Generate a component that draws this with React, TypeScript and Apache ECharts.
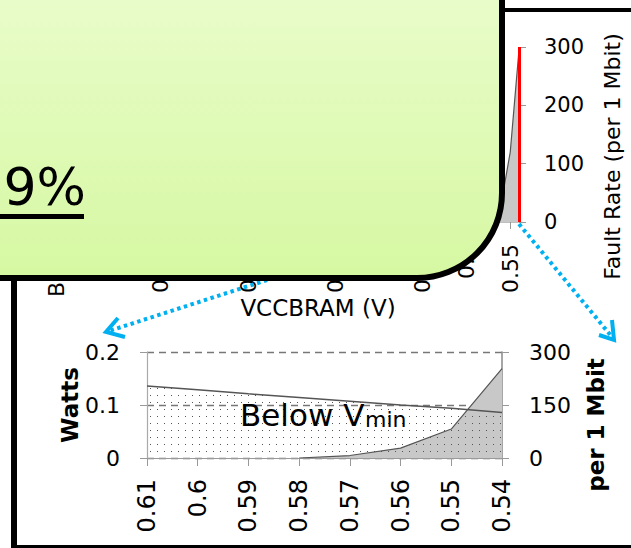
import React, { useEffect, useRef } from "react";
import * as echarts from "echarts";

// ---- data ----
const topVolts = [
  "1", "0.99", "0.98", "0.97", "0.96", "0.95", "0.94", "0.93", "0.92", "0.91",
  "0.9", "0.89", "0.88", "0.87", "0.86", "0.85", "0.84", "0.83", "0.82", "0.81",
  "0.8", "0.79", "0.78", "0.77", "0.76", "0.75", "0.74", "0.73", "0.72", "0.71",
  "0.7", "0.69", "0.68", "0.67", "0.66", "0.65", "0.64", "0.63", "0.62", "0.61",
  "0.6", "0.59", "0.58", "0.57", "0.56", "0.55", "0.54",
];
const topFault = [
  null, null, null, null, null, null, null, null, null, null,
  null, null, null, null, null, null, null, null, null, null,
  null, null, null, null, null, null, null, null, null, null,
  null, null, null, null, null, null, null, null, null, null,
  null, null, 0, 8, 35, 120, 295,
];
const topFaultTicks = [0, 300, 100];
const vminCategory = "0.54";

const zoomVolts = ["0.61", "0.6", "0.59", "0.58", "0.57", "0.56", "0.55", "0.54"];
const zoomPower = [0.136, 0.129, 0.121, 0.114, 0.107, 0.1, 0.094, 0.086];
const zoomFault = [null, null, null, 0, 7, 28, 82, 253];
const powerTicks = [0, 0.2, 0.1];
const faultTicks = [0, 300, 150];

const FONT = '"DejaVu Sans"';
const BLUE = "#00B0F0";

function makeDotPattern(): HTMLCanvasElement {
  const c = document.createElement("canvas");
  c.width = 7;
  c.height = 7;
  const ctx = c.getContext("2d")!;
  ctx.clearRect(0, 0, 7, 7);
  ctx.fillStyle = "#555555";
  ctx.fillRect(3, 3, 1, 1);
  return c;
}

export default function App() {
  const ref = useRef<HTMLDivElement>(null);

  useEffect(() => {
    if (!ref.current) return;
    const chart = echarts.init(ref.current, undefined, { renderer: "svg" });
    const dots = makeDotPattern();

    const option: any = {
      animation: false,
      backgroundColor: "#ffffff",
      textStyle: { fontFamily: FONT, color: "#000" },
      grid: [
        { left: 117, right: 112, top: 47, bottom: 326 },
        { left: 147, right: 129, top: 352, bottom: 90 },
      ],
      xAxis: [
        {
          type: "category",
          gridIndex: 0,
          data: topVolts,
          boundaryGap: false,
          name: "VCCBRAM (V)",
          nameLocation: "middle",
          nameGap: 74,
          nameTextStyle: { fontSize: 23, color: "#000", fontFamily: FONT },
          axisLine: { lineStyle: { color: "#aaaaaa", width: 1.5 } },
          axisTick: { interval: 4, length: 7, lineStyle: { color: "#999" } },
          axisLabel: {
            interval: 4,
            rotate: 90,
            margin: 22,
            fontSize: 22,
            color: "#000",
            fontFamily: FONT,
          },
        },
        {
          type: "category",
          gridIndex: 1,
          data: zoomVolts,
          boundaryGap: false,
          axisLine: { lineStyle: { color: "#999999", width: 1.2 } },
          axisTick: { length: 8, lineStyle: { color: "#999" } },
          axisLabel: {
            rotate: 90,
            margin: 21,
            fontSize: 24,
            color: "#000",
            fontFamily: FONT,
          },
        },
      ],
      yAxis: [
        {
          type: "value",
          gridIndex: 0,
          position: "left",
          min: 0,
          max: 0.6,
          interval: 0.2,
          name: "BRAM Power (W)",
          nameLocation: "middle",
          nameRotate: 90,
          nameGap: 50,
          nameTextStyle: { fontSize: 22, color: "#000", fontFamily: FONT, padding: [0, 142, 0, 0] },
          axisLine: { show: false },
          axisTick: { show: false },
          axisLabel: { show: false },
          splitLine: { show: false },
        },
        {
          type: "value",
          gridIndex: 0,
          position: "right",
          min: topFaultTicks[0],
          max: topFaultTicks[1],
          interval: topFaultTicks[2],
          name: "Fault Rate (per 1 Mbit)",
          nameLocation: "middle",
          nameRotate: 90,
          nameGap: 82,
          nameTextStyle: { fontSize: 22, color: "#000", fontFamily: FONT, padding: [0, 44, 0, 0] },
          axisLine: { show: false },
          axisTick: { show: true, length: 7, lineStyle: { color: "#999" } },
          axisLabel: { margin: 25, fontSize: 21, color: "#000", fontFamily: FONT },
          splitLine: { show: false },
        },
        {
          type: "value",
          gridIndex: 1,
          position: "left",
          min: powerTicks[0],
          max: powerTicks[1],
          interval: powerTicks[2],
          name: "Watts",
          nameLocation: "middle",
          nameRotate: 90,
          nameGap: 66,
          nameMoveOverlap: false,
          nameTextStyle: { fontSize: 23, fontWeight: "bold", color: "#000", fontFamily: FONT },
          axisLine: { show: true, lineStyle: { color: "#aaaaaa", width: 1.2 } },
          axisTick: { show: true, length: 7, lineStyle: { color: "#999" } },
          axisLabel: { margin: 27, fontSize: 22, color: "#000", fontFamily: FONT },
          splitLine: { show: true, lineStyle: { color: "#777", type: [7, 5], width: 1.3 } },
        },
        {
          type: "value",
          gridIndex: 1,
          position: "right",
          min: faultTicks[0],
          max: faultTicks[1],
          interval: faultTicks[2],
          name: "per 1 Mbit",
          nameLocation: "middle",
          nameRotate: 90,
          nameGap: 82,
          nameTextStyle: {
            fontSize: 23,
            fontWeight: "bold",
            color: "#000",
            fontFamily: FONT,
            padding: [0, 40, 0, 0],
          },
          axisLine: { show: true, lineStyle: { color: "#888888", width: 1.5 } },
          axisTick: { show: true, length: 7, lineStyle: { color: "#999" } },
          axisLabel: { margin: 27, fontSize: 22, color: "#000", fontFamily: FONT },
          splitLine: { show: false },
        },
      ],
      series: [
        {
          type: "line",
          xAxisIndex: 0,
          yAxisIndex: 1,
          data: topFault,
          symbol: "none",
          lineStyle: { color: "#555", width: 1.2 },
          areaStyle: { color: "#c8c8c8", opacity: 1 },
          z: 2,
          markLine: {
            silent: true,
            symbol: "none",
            label: { show: false },
            lineStyle: { color: "#ff0000", width: 3, type: "solid" },
            data: [{ xAxis: vminCategory }],
          },
        },
        {
          type: "line",
          xAxisIndex: 1,
          yAxisIndex: 3,
          data: zoomFault,
          symbol: "none",
          lineStyle: { color: "#555", width: 1.2 },
          areaStyle: { color: "#c8c8c8", opacity: 1 },
          z: 2,
        },
        {
          type: "line",
          xAxisIndex: 1,
          yAxisIndex: 2,
          data: zoomPower,
          symbol: "none",
          lineStyle: { color: "#555", width: 1.5 },
          areaStyle: { color: { image: dots, repeat: "repeat" }, opacity: 1 },
          z: 3,
        },
      ],
      graphic: [
        // frame lines
        { type: "rect", z: 40, shape: { x: 480, y: 8, width: 151, height: 4 }, style: { fill: "#000" } },
        { type: "rect", z: 40, shape: { x: 11, y: 276, width: 6, height: 272 }, style: { fill: "#000" } },
        { type: "rect", z: 40, shape: { x: 11, y: 545, width: 620, height: 3 }, style: { fill: "#000" } },
        // zoom arrows
        {
          type: "line",
          z: 50,
          shape: { x1: 447, y1: 222, x2: 109, y2: 331 },
          style: { stroke: BLUE, lineWidth: 4, lineDash: [3.5, 3.5] },
        },
        {
          type: "polyline",
          z: 50,
          shape: { points: [[118, 318], [106, 332], [125, 337]] },
          style: { stroke: BLUE, lineWidth: 4, fill: null },
        },
        {
          type: "line",
          z: 50,
          shape: { x1: 519, y1: 224, x2: 612, y2: 337 },
          style: { stroke: BLUE, lineWidth: 4, lineDash: [3.5, 3.5] },
        },
        {
          type: "polyline",
          z: 50,
          shape: { points: [[612, 320], [614, 340], [599, 335]] },
          style: { stroke: BLUE, lineWidth: 4, fill: null },
        },
        // Below Vmin annotation
        {
          type: "text",
          z: 60,
          x: 240,
          y: 415,
          style: {
            text: "Below V",
            fontSize: 31,
            fontFamily: FONT,
            fill: "#000",
            align: "left",
            verticalAlign: "middle",
          },
        },
        {
          type: "text",
          z: 60,
          x: 365,
          y: 419,
          style: {
            text: "min",
            fontSize: 22,
            fontFamily: FONT,
            fill: "#000",
            align: "left",
            verticalAlign: "middle",
          },
        },
        // callout box
        {
          type: "group",
          z: 100,
          children: [
            {
              type: "rect",
              z: 100,
              shape: { x: -200, y: -200, width: 702, height: 478, r: 85 },
              style: {
                fill: new echarts.graphic.LinearGradient(0, 0, 0, 1, [
                  { offset: 0, color: "#f2feea" },
                  { offset: 0.42, color: "#e8fcc9" },
                  { offset: 1, color: "#d6f8a2" },
                ]),
                stroke: "#000",
                lineWidth: 6,
              },
            },
            {
              type: "text",
              z: 101,
              x: 86,
              y: 187,
              style: {
                text: "9%",
                fontSize: 52,
                fontFamily: FONT,
                fill: "#000",
                align: "right",
                verticalAlign: "middle",
              },
            },
            {
              type: "rect",
              z: 101,
              shape: { x: -5, y: 214, width: 89, height: 5 },
              style: { fill: "#000" },
            },
          ],
        },
      ],
    };

    chart.setOption(option);
    return () => chart.dispose();
  }, []);

  return (
    <div
      ref={ref}
      style={{ position: "fixed", left: 0, top: 0, width: 631, height: 548, background: "#fff" }}
    />
  );
}
